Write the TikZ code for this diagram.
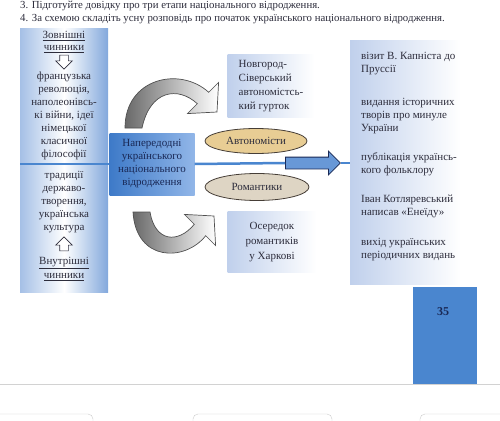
\documentclass[tikz,border=0pt]{standalone}
\usepackage{fontspec}
\setmainfont{Liberation Serif}
\usetikzlibrary{shapes.geometric,shapes.arrows}
\definecolor{txt}{RGB}{45,45,60}
\definecolor{navy}{RGB}{25,40,85}
\definecolor{lineblue}{RGB}{74,134,207}
\definecolor{colblue}{RGB}{165,192,230}
\definecolor{colblueR}{RGB}{130,168,220}
\definecolor{centerL}{RGB}{62,122,200}
\definecolor{centerR}{RGB}{145,182,232}
\definecolor{lightbox}{RGB}{192,208,236}
\definecolor{autofill}{RGB}{232,205,148}
\definecolor{romfill}{RGB}{222,213,196}
\definecolor{ellline}{RGB}{70,62,55}
\definecolor{arrowfill}{RGB}{104,152,215}
\definecolor{pagebox}{RGB}{74,134,207}
\definecolor{graydark}{RGB}{105,105,105}
\definecolor{grayline}{RGB}{80,80,80}
\begin{document}
\begin{tikzpicture}[x=1pt,y=-1pt,
  every node/.style={font=\fontsize{11}{13}\selectfont, text=txt, inner sep=0pt},
  colbox/.style={rectangle, left color=colblue, right color=colblueR, middle color=white},
  centerbox/.style={rectangle, left color=centerL, right color=centerR, text=navy, align=center},
  sidebox/.style={rectangle, left color=lightbox, right color=white},
  oval/.style={ellipse, draw=ellline, line width=0.8pt},
  hollowarrow/.style={single arrow, draw=txt, fill=white, line width=0.6pt, inner sep=4pt,
    minimum height=14pt, single arrow head extend=4pt},
  connector/.style={draw=lineblue, line width=2.5pt},
  curvedarrow/.style={draw=grayline, line width=0.7pt}
]
\useasboundingbox (0,0) rectangle (500,420);
\clip (0,0) rectangle (500,420);
\fill[white] (0,0) rectangle (500,420);

% header
\node[anchor=base west, font=\fontsize{10.8}{13}\selectfont] (h1) at (20,9) {3. Підготуйте довідку про три етапи національного відродження.};
\node[anchor=base west, font=\fontsize{10.8}{13}\selectfont] (h2) at (20,22) {4. За схемою складіть усну розповідь про початок українського національного відродження.};

% left column
\node[colbox, minimum width=88pt, minimum height=264pt, anchor=north west] (leftcol) at (20,28) {};
\node[align=center, font=\fontsize{11}{12.5}\selectfont] (ext) at (64,42) {\underline{Зовнішні}\\\underline{чинники}};
\node[hollowarrow, rotate=-90] (downarr) at (64,60) {};
\node[align=center] (extlist) at (64,116) {французька\\революція,\\наполеонівсь-\\кі війни, ідеї\\німецької\\класичної\\філософії};
\node[align=center] (intlist) at (64,202) {традиції\\державо-\\творення,\\українська\\культура};
\node[hollowarrow, rotate=90] (uparr) at (64,246) {};
\node[align=center, font=\fontsize{11}{14}\selectfont] (int) at (64,269) {\underline{Внутрішні}\\\underline{чинники}};

% right column
\node[sidebox, minimum width=110pt, minimum height=244pt, anchor=north west] (rightcol) at (350,40) {};
\node[anchor=west, align=left] (r1) at (361,63.5) {візит В. Капніста до\\Пруссії};
\node[anchor=west, align=left] (r2) at (361,116) {видання історичних\\творів про минуле\\України};
\node[anchor=west, align=left] (r3) at (361,164.5) {публікація українсь-\\кого фольклору};
\node[anchor=west, align=left] (r4) at (361,206.5) {Іван Котляревський\\написав «Енеїду»};
\node[anchor=west, align=left] (r5) at (361,249.5) {вихід українських\\періодичних видань};

% central box
\node[centerbox, minimum width=85pt, minimum height=62pt] (center) at (152,164)
  {Напередодні\\українського\\національного\\відродження};

% main horizontal connector
\path[connector] (leftcol.west |- center.west) -- (center.west);
\node[single arrow, draw=navy, fill=arrowfill, line width=0.8pt, inner sep=5.5pt,
  minimum height=55pt, single arrow head extend=6pt, anchor=tail] (bigarrow) at (285,163) {};
\path[connector] (center.east) -- (bigarrow.tail);
\path[connector] (bigarrow.tip) -- (rightcol.west |- bigarrow.tip);

% ellipses
\node[oval, fill=autofill, minimum width=102pt, minimum height=25pt] (auto) at (256,141) {Автономісти};
\node[oval, fill=romfill, minimum width=104pt, minimum height=27pt] (rom) at (257,187) {Романтики};

% side boxes
\node[sidebox, minimum width=87pt, minimum height=63pt, align=left,
  font=\fontsize{11}{14}\selectfont] (novg) at (271,86) {Новгород-\\Сіверський\\автономістсь-\\кий гурток};
\node[sidebox, minimum width=89pt, minimum height=61pt, align=center,
  font=\fontsize{11}{15}\selectfont] (oser) at (272,242) {Осередок\\романтиків\\у Харкові};

% curved arrows
\shade[curvedarrow, left color=graydark, right color=white]
  (125,128) .. controls (125,78) and (180,66) .. (208.7,92.3)
  -- (218.6,82.4) -- (217,112) -- (187.4,113.6) -- (197.3,103.7)
  .. controls (178,86) and (150,90) .. (142,128) -- cycle;
\shade[curvedarrow, left color=graydark, right color=white]
  (133,212) .. controls (136,262) and (185,262) .. (205.7,235.7)
  -- (215.6,245.6) -- (214,216) -- (184.4,214.4) -- (194.3,224.3)
  .. controls (178,244) and (155,242) .. (150,212) -- cycle;

% page number
\node[rectangle, fill=pagebox, minimum width=64pt, minimum height=97pt, anchor=north west] (page) at (413,287) {};
\node[font=\bfseries\fontsize{12}{14}\selectfont, text=navy] (num) at (443,312) {35};

% bottom of page / screen
\draw[gray!35, line width=0.6pt] (0,384) -- (500,384);
\draw[gray!40, rounded corners=5pt] (-5,414) rectangle (93,440);
\draw[gray!40, rounded corners=5pt] (193,414) rectangle (332,440);
\draw[gray!40, rounded corners=5pt] (420,414) rectangle (510,440);
\end{tikzpicture}
\end{document}
